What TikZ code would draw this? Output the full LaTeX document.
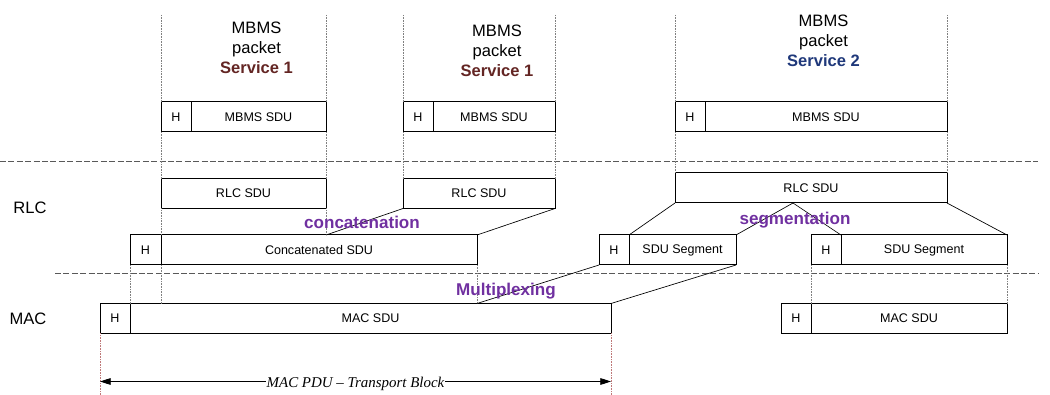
\documentclass[tikz,border=0pt]{standalone}
\usepackage{fontspec}
\setmainfont{Liberation Sans}
\newfontfamily\timesit{Liberation Serif}
\usetikzlibrary{arrows.meta}

\definecolor{servred}{RGB}{99,37,35}
\definecolor{servblue}{RGB}{31,56,122}
\definecolor{oppurple}{RGB}{112,48,160}
\definecolor{guidered}{RGB}{190,120,120}

\tikzset{
  pdu/.style 2 args={draw, fill=white, line width=0.75, inner sep=0pt, outer sep=0pt,
    anchor=north west, minimum width=#1*0.75pt, minimum height=#2*0.75pt,
    font=\fontsize{9.4}{11}\selectfont},
  guide/.style={draw=gray, line width=0.5, dash pattern=on 0.6pt off 0.6pt},
  guidemac/.style={draw=guidered, line width=0.5, dash pattern=on 0.6pt off 0.6pt},
  layer/.style={draw=black!65, line width=0.75, dash pattern=on 4.5pt off 1.8pt},
  split/.style={draw, line width=0.5},
  pkt/.style={align=center, inner sep=0pt, font=\fontsize{12.4}{15.2}\selectfont},
  oplabel/.style={anchor=base, inner sep=0pt, text=oppurple, font=\fontsize{12.8}{15}\selectfont\bfseries},
  lvl/.style={inner sep=0pt, font=\fontsize{12.4}{15}\selectfont},
}

\begin{document}
\begin{tikzpicture}[x=0.75pt,y=0.75pt,yscale=-1,xscale=1]
      \useasboundingbox (0,0) rectangle (1050,395);
      \coordinate (top) at (0,15);
      \coordinate (bot) at (0,395);
      \coordinate (arr) at (0,381.5);

      %Dashed lines (layer borders)
      \draw[layer] (0,162) -- (1038,162);
      \draw[layer] (55,274) -- (1038,274);

      % Text Node
      \node[lvl] (rlclbl) at (30,208) {RLC};
      % Text Node
      \node[lvl] (maclbl) at (28,319) {MAC};

      % MBMS packets
      \node[pkt] (pkt1) at (256.5,47.8) {MBMS\\packet\\\textcolor{servred}{\bfseries Service 1}};
      \node[pkt] (pkt2) at (497,50.7) {MBMS\\packet\\\textcolor{servred}{\bfseries Service 1}};
      \node[pkt] (pkt3) at (823.5,40.8) {MBMS\\packet\\\textcolor{servblue}{\bfseries Service 2}};

      %MBMS SDU row
      \node[pdu={30}{30}] (mh1) at (161,102) {H};
      \node[pdu={135}{30}] (ms1) at (191,102) {MBMS SDU};
      \node[pdu={30}{30}] (mh2) at (403,102) {H};
      \node[pdu={122}{30}] (ms2) at (433,102) {MBMS SDU};
      \node[pdu={30}{30}] (mh3) at (675,102) {H};
      \node[pdu={242}{30}] (ms3) at (705,102) {MBMS SDU};

      %RLC SDU row
      \node[pdu={165}{30}] (rlc1) at (161,178.5) {RLC SDU};
      \node[pdu={152}{30}] (rlc2) at (403,178.5) {RLC SDU};
      \node[pdu={272}{30}] (rlc3) at (675,173) {RLC SDU};

      %Concatenated / segmented row
      \node[pdu={31}{30}] (ch) at (130,235) {H};
      \node[pdu={316}{30}] (cs) at (161,235) {Concatenated SDU};
      \node[pdu={30}{30}] (sh1) at (599,235) {H};
      \node[pdu={107}{30}] (ss1) at (629,235) {SDU Segment};
      \node[pdu={30}{30}] (sh2) at (811,235) {H};
      \node[pdu={166}{30}] (ss2) at (841,235) {SDU Segment};

      %MAC row
      \node[pdu={30}{30}] (mach1) at (100,303.5) {H};
      \node[pdu={481}{30}] (macs1) at (130,303.5) {MAC SDU};
      \node[pdu={30}{30}] (mach2) at (781,303.5) {H};
      \node[pdu={196}{30}] (macs2) at (811,303.5) {MAC SDU};

      %Dotted guides
      \draw[guide] (mh1.north west |- top) -- (mh1.north west);
      \draw[guide] (mh1.south west) -- (rlc1.north west);
      \draw[guide] (rlc1.south west) -- (cs.north west);
      \draw[guide] (cs.south west) -- (cs.south west |- macs1.north);
      \draw[guide] (ms1.north east |- top) -- (ms1.north east);
      \draw[guide] (ms1.south east) -- (rlc1.north east);
      \draw[guide] (rlc1.south east) -- (rlc1.south east |- cs.north);
      \draw[guide] (mh2.north west |- top) -- (mh2.north west);
      \draw[guide] (mh2.south west) -- (rlc2.north west);
      \draw[guide] (ms2.north east |- top) -- (ms2.north east);
      \draw[guide] (ms2.south east) -- (rlc2.north east);
      \draw[guide] (mh3.north west |- top) -- (mh3.north west);
      \draw[guide] (mh3.south west) -- (rlc3.north west);
      \draw[guide] (ms3.north east |- top) -- (ms3.north east);
      \draw[guide] (ms3.south east) -- (rlc3.north east);
      \draw[guide] (ch.south west) -- (mach1.north east);
      \draw[guide] (cs.south east) -- (cs.south east |- macs1.north);
      \draw[guide] (sh2.south west) -- (macs2.north west);
      \draw[guide] (ss2.south east) -- (macs2.north east);
      \draw[guidemac] (mach1.south west) -- (mach1.south west |- bot);
      \draw[guidemac] (macs1.south east) -- (macs1.south east |- bot);

      %Straight Lines (concatenation)
      \draw[split] (rlc2.south west) -- (rlc1.south east |- cs.north);
      \draw[split] (rlc2.south east) -- (cs.north east);
      %Straight Lines (segmentation)
      \coordinate (cut) at (793,203);
      \draw[split] (rlc3.south west) -- (ss1.north west);
      \draw[split] (cut) -- (ss1.north east);
      \draw[split] (cut) -- (ss2.north west);
      \draw[split] (rlc3.south east) -- (ss2.north east);
      %Straight Lines (multiplexing)
      \draw[split] (sh1.south west) -- (cs.south east |- macs1.north);
      \draw[split] (ss1.south east) -- (macs1.north east);

      % Text Node
      \node[oplabel] (concat) at (362,229) {concatenation};
      % Text Node
      \node[oplabel] (segm) at (795,224.5) {segmentation};
      % Text Node
      \node[oplabel] (mux) at (506,296) {Multiplexing};

      %Transport block arrow
      \draw[line width=0.6, {Triangle[length=8pt,width=5pt]}-{Triangle[length=8pt,width=5pt]}]
        (mach1.south west |- arr) -- node[midway, fill=white, inner sep=0.5pt, yshift=-1.5pt, font=\timesit\itshape\fontsize{11.2}{13}\selectfont] (tblbl) {MAC PDU \textendash{} Transport Block} (macs1.south east |- arr);
\end{tikzpicture}
\end{document}
